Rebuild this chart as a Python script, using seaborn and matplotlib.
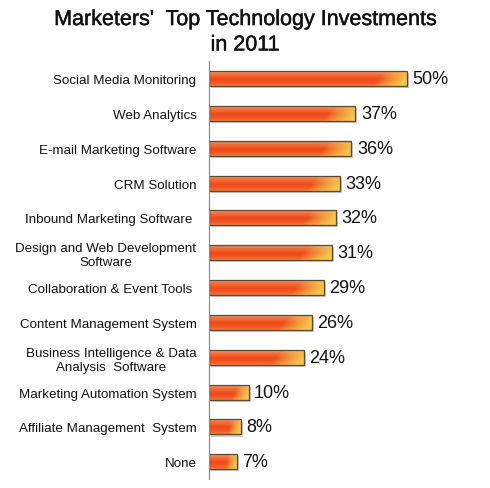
import numpy as np
import pandas as pd
import matplotlib
matplotlib.use('Agg')
import matplotlib.pyplot as plt
import matplotlib.patheffects as pe
from matplotlib.colors import to_rgb
import seaborn as sns

categories = ['Social Media Monitoring', 'Web Analytics', 'E-mail Marketing Software',
              'CRM Solution', 'Inbound Marketing Software ',
              'Design and Web Development\nSoftware', 'Collaboration & Event Tools ',
              'Content Management System', 'Business Intelligence & Data\nAnalysis  Software',
              'Marketing Automation System', 'Affiliate Management  System', 'None']
values = [50, 37, 36, 33, 32, 31, 29, 26, 24, 10, 8, 7]
value_labels = ['50%', '37%', '36%', '33%', '32%', '31%', '29%', '26%', '24%', '10%', '8%', '7%']

df = pd.DataFrame({'tech': categories, 'pct': values})

sns.set_style('white')
plt.rcParams['font.family'] = ['Liberation Sans', 'DejaVu Sans']

fig = plt.figure(figsize=(4.9, 4.89), dpi=100)
ax = fig.add_axes([0.4265, 0.018, 0.565, 0.855])

sns.barplot(data=df, x='pct', y='tech', orient='h', color='#f05a1e', width=0.43,
            linewidth=0, ax=ax)

ax.set_xlim(0, 70)
ax.set_ylim(11.5, -0.5)

# cylinder-like orange shading, yellow glow toward the right end
top_c = np.array(to_rgb('#f8a070'))
mid_c = np.array(to_rgb('#ef4a1a'))
bot_c = np.array(to_rgb('#f27a3c'))
yel_c = np.array(to_rgb('#f4c650'))
for bar in ax.patches:
    x0, y0 = bar.get_x(), bar.get_y()
    w, h = bar.get_width(), bar.get_height()
    npx = max(int(w * 4), 10)
    gx = np.linspace(0, 1, npx)
    gy = np.linspace(0, 1, 30)
    X, Y = np.meshgrid(gx, gy)
    # vertical profile
    up = np.clip(1 - Y / 0.45, 0, 1) ** 1.5
    dn = np.clip((Y - 0.6) / 0.4, 0, 1) ** 1.5
    img = mid_c * (1 - up - dn)[..., None] + top_c * up[..., None] + bot_c * dn[..., None]
    img = img + 0.06 * np.exp(-((Y - 0.35) / 0.12) ** 2)[..., None] * np.array([0.2, 1.0, 0.6])
    # yellow highlight near the right end, slightly diagonal
    span = min(0.35, 7.0 / max(w, 1))
    s = np.clip((X - (1 - span) - 0.4 * span * (0.5 - Y)) / span, 0, 1) ** 0.8
    img = img * (1 - s[..., None]) + yel_c * s[..., None]
    img = np.clip(img, 0, 1)
    im = ax.imshow(img, aspect='auto', extent=[x0, x0 + w, y0 + h, y0],
                   zorder=bar.get_zorder() + 0.1, interpolation='bilinear')
    im.set_clip_path(bar)
    bar.set_path_effects([pe.SimplePatchShadow(offset=(1.5, -1.5), shadow_rgbFace='#999999', alpha=0.5),
                          pe.Normal()])
    edge = plt.Rectangle((x0, y0), w, h, fill=False, edgecolor='#5a4a32', linewidth=0.9,
                         zorder=bar.get_zorder() + 0.2)
    ax.add_patch(edge)

for i, (v, lab) in enumerate(zip(values, value_labels)):
    ax.annotate(lab, xy=(v, i), xytext=(4, 0), textcoords='offset points',
                va='center', ha='left', fontsize=13, color='#111111')

ax.set_xlabel('')
ax.set_ylabel('')
ax.set_xticks([])
ax.tick_params(axis='y', length=0, pad=9)
for lab in ax.get_yticklabels():
    lab.set_fontsize(9.6)
    lab.set_multialignment('center')
    lab.set_color('#111111')
for side in ['top', 'right', 'bottom']:
    ax.spines[side].set_visible(False)
ax.spines['left'].set_color('#888888')
ax.spines['left'].set_linewidth(0.8)
ax.spines['left'].set_zorder(5)

title_fx = [pe.withStroke(linewidth=0.3, foreground='#111111')]
fig.text(0.5, 0.958, "Marketers'  Top Technology Investments", ha='center', va='center',
         fontsize=15.5, color='#111111', path_effects=title_fx)
fig.text(0.5, 0.906, 'in 2011', ha='center', va='center',
         fontsize=15.5, color='#111111', path_effects=title_fx)

fig.savefig('out.png', dpi=100)
